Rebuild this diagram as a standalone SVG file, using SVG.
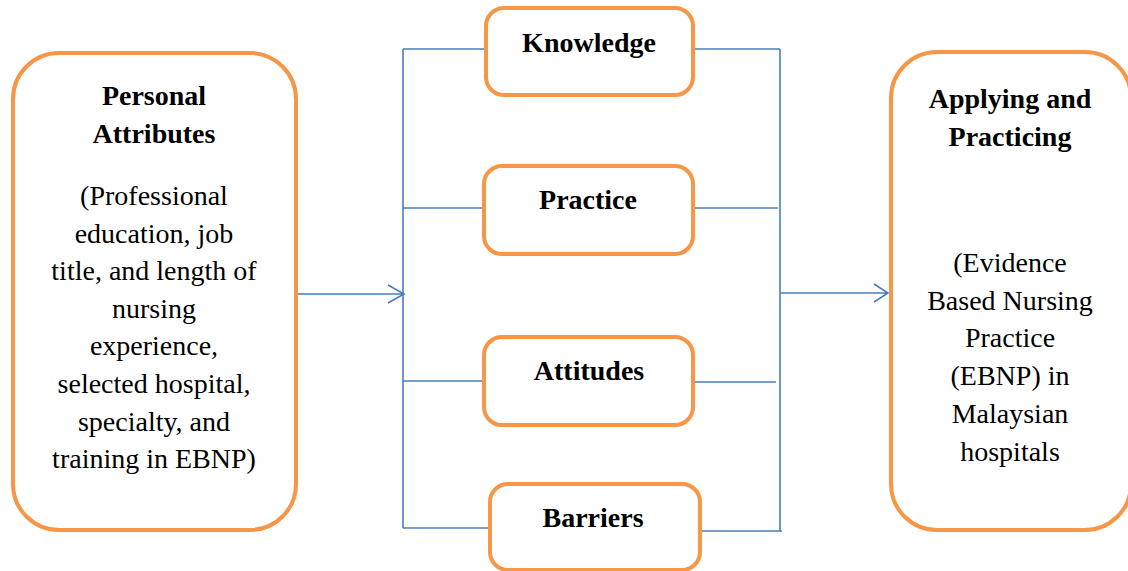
<svg xmlns="http://www.w3.org/2000/svg" width="1128" height="571" viewBox="0 0 1128 571">
<style>
.box{fill:#fff;stroke:#F79646;stroke-width:4}
.ln{fill:none;stroke:#4A7EBB;stroke-width:1.6}
text{font-family:'Liberation Serif',serif;font-size:28px;fill:#000;text-anchor:middle}
.b{font-weight:bold}
</style>
<g id="connectors">
<path class="ln" d="M403 49V528"/>
<path class="ln" d="M403 49H486M403 208H483M403 381H483M403 528H489"/>
<path class="ln" d="M780 49V531"/>
<path class="ln" d="M694 49H780M694 208H778M694 382H776M701 531H782"/>
<path class="ln" d="M297 294H404M388 285L404 294L388 303"/>
<path class="ln" d="M780 293H888M874 284L888 293L874 302"/>
</g>
<g id="personal">
<rect class="box" x="13" y="53" width="283" height="477" rx="46"/>
<text class="b" x="154" y="105">Personal</text>
<text class="b" x="154" y="143">Attributes</text>
<text x="154" y="205">(Professional</text>
<text x="154" y="243">education, job</text>
<text x="154" y="280">title, and length of</text>
<text x="154" y="318">nursing</text>
<text x="154" y="355">experience,</text>
<text x="154" y="393">selected hospital,</text>
<text x="154" y="431">specialty, and</text>
<text x="154" y="468">training in EBNP)</text>
</g>
<g id="knowledge">
<rect class="box" x="486" y="8" width="207" height="87" rx="18"/>
<text class="b" x="589" y="52">Knowledge</text>
</g>
<g id="practice">
<rect class="box" x="484" y="166" width="209" height="88" rx="18"/>
<text class="b" x="588" y="209">Practice</text>
</g>
<g id="attitudes">
<rect class="box" x="484" y="337" width="209" height="88" rx="18"/>
<text class="b" x="589" y="380">Attitudes</text>
</g>
<g id="barriers">
<rect class="box" x="490" y="484" width="210" height="86" rx="18"/>
<text class="b" x="593" y="527">Barriers</text>
</g>
<g id="applying">
<rect class="box" x="891" y="52" width="240" height="478" rx="46"/>
<text class="b" x="1010" y="108">Applying and</text>
<text class="b" x="1010" y="146">Practicing</text>
<text x="1010" y="272">(Evidence</text>
<text x="1010" y="310">Based Nursing</text>
<text x="1010" y="347">Practice</text>
<text x="1010" y="385">(EBNP) in</text>
<text x="1010" y="423">Malaysian</text>
<text x="1010" y="461">hospitals</text>
</g>
</svg>
